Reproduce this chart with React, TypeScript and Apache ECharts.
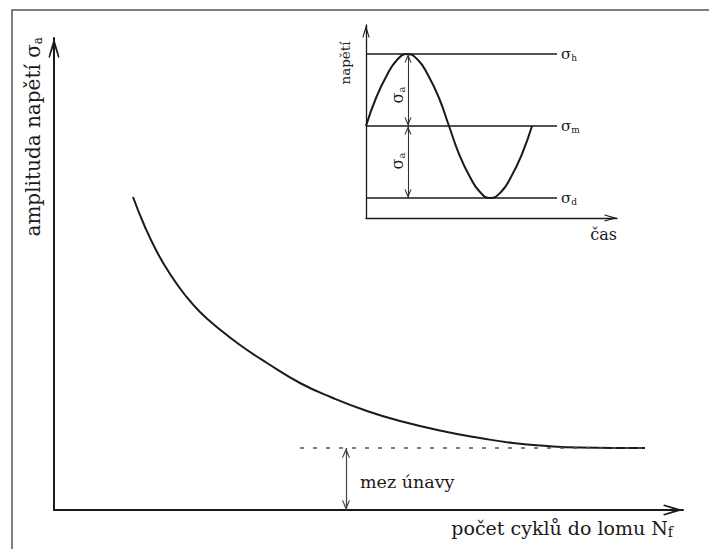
import React, { useEffect, useRef } from "react";
import * as echarts from "echarts";

// S–N (Wöhler) curve, arbitrary units along both axes
const snCycles = [79, 91, 103, 116, 131, 146, 164, 186, 213, 246, 279, 313, 346, 393, 426, 459, 493, 526, 591];
const snAmplitude = [313, 283, 258, 236, 215, 198, 182, 165, 147, 127, 112, 99, 89, 78, 72, 67, 64, 62.5, 62];

// fatigue limit (mez únavy)
const fatigueLimit = 62;
const fatigueLineFrom = 246;
const fatigueLineTo = 591;
const fatigueArrowAt = 292;

// inset: stress over time, one full cycle
const cycleTime = [0, 10, 21, 31, 41, 52, 62, 73, 83, 93, 104, 114, 124, 135, 145, 156, 166];
const cycleStress = [92, 120, 143, 158, 164, 158, 143, 120, 92, 64, 41, 26, 20, 26, 41, 64, 92];

// stress levels: upper, mean, lower
const sigmaUpper = 164;
const sigmaMean = 92;
const sigmaLower = 20;
const levelLineEnd = 191;
const amplitudeArrowAt = 42;

const SERIF = "DejaVu Serif";
const INK = "#1a1a1a";

// open chevron arrowhead, pointing up
const CHEVRON = "path://M27.5,0 L55,94 L49,100 L27.5,35 L6,100 L0,94 Z";

const hiddenAxisParts = {
  axisTick: { show: false },
  axisLabel: { show: false },
  splitLine: { show: false },
};

export default function App() {
  const ref = useRef<HTMLDivElement>(null);

  useEffect(() => {
    if (!ref.current) return;
    const chart = echarts.init(ref.current, null, { renderer: "svg" });

    const levelSeries = (name: string, value: number, sub: string) => ({
      name,
      type: "line",
      xAxisIndex: 1,
      yAxisIndex: 1,
      data: [
        [0, value],
        [levelLineEnd, value],
      ],
      symbol: "none",
      lineStyle: { color: INK, width: 1.3 },
      endLabel: {
        show: true,
        distance: 4,
        formatter: `{s|σ}{b|${sub}}`,
        rich: {
          s: { fontFamily: SERIF, fontSize: 15, color: INK },
          b: { fontFamily: SERIF, fontSize: 9, color: INK, padding: [8, 0, 0, 0] },
        },
      },
    });

    const subscriptText = (
      text: string,
      x: number,
      y: number,
      size: number,
      subSize: number,
      align: string,
      rotation: number
    ) => ({
      type: "text",
      x,
      y,
      rotation,
      style: {
        text,
        align,
        verticalAlign: "middle",
        fontFamily: SERIF,
        fontSize: size,
        fill: INK,
        rich: {
          a: {
            fontFamily: SERIF,
            fontSize: subSize,
            fill: INK,
            padding: [Math.round(size * 0.5), 0, 0, 0],
          },
        },
      },
    });

    const option = {
      animation: false,
      backgroundColor: "#ffffff",
      grid: [
        { left: 54, top: 38, width: 629, height: 472 },
        { left: 366, top: 25, width: 251, height: 193 },
      ],
      xAxis: [
        {
          gridIndex: 0,
          type: "value",
          min: 0,
          max: 629,
          ...hiddenAxisParts,
          axisLine: {
            lineStyle: { color: INK, width: 2 },
            symbol: ["none", CHEVRON],
            symbolSize: [12, 20],
            symbolOffset: [0, -10],
          },
          name: "počet cyklů do lomu N{f|f}",
          nameLocation: "end",
          nameGap: -10,
          nameTextStyle: {
            align: "right",
            verticalAlign: "top",
            padding: [7, 0, 0, 0],
            fontFamily: SERIF,
            fontSize: 19,
            color: INK,
            rich: {
              f: { fontFamily: SERIF, fontSize: 14, color: INK, padding: [8, 0, 0, 0] },
            },
          },
        },
        {
          gridIndex: 1,
          type: "value",
          min: 0,
          max: 251,
          ...hiddenAxisParts,
          axisLine: {
            lineStyle: { color: INK, width: 1.3 },
            symbol: ["none", CHEVRON],
            symbolSize: [8, 13],
            symbolOffset: [0, -6.5],
          },
        },
      ],
      yAxis: [
        {
          gridIndex: 0,
          type: "value",
          min: 0,
          max: 472,
          ...hiddenAxisParts,
          axisLine: {
            lineStyle: { color: INK, width: 2 },
            symbol: ["none", CHEVRON],
            symbolSize: [12, 20],
            symbolOffset: [0, -10],
          },
        },
        {
          gridIndex: 1,
          type: "value",
          min: 0,
          max: 193,
          ...hiddenAxisParts,
          axisLine: {
            lineStyle: { color: INK, width: 1.3 },
            symbol: ["none", CHEVRON],
            symbolSize: [8, 13],
            symbolOffset: [0, -6.5],
          },
        },
      ],
      series: [
        {
          name: "S-N",
          type: "line",
          xAxisIndex: 0,
          yAxisIndex: 0,
          data: snCycles.map((x, i) => [x, snAmplitude[i]]),
          smooth: 0.5,
          symbol: "none",
          lineStyle: { color: INK, width: 2 },
          z: 3,
        },
        {
          name: "mez únavy",
          type: "line",
          xAxisIndex: 0,
          yAxisIndex: 0,
          data: [
            [fatigueLineFrom, fatigueLimit],
            [fatigueLineTo, fatigueLimit],
          ],
          symbol: "none",
          lineStyle: { color: "#555", width: 1.3, type: [4, 9] },
          markLine: {
            silent: true,
            symbol: [CHEVRON, CHEVRON],
            symbolSize: [8, 10],
            symbolOffset: [
              [0, 5],
              [0, 5],
            ],
            lineStyle: { color: "#444", width: 1.2, type: "solid" },
            label: { show: false },
            data: [
              [
                { coord: [fatigueArrowAt, 0] },
                { coord: [fatigueArrowAt, fatigueLimit] },
              ],
            ],
          },
        },
        {
          name: "napětí",
          type: "line",
          xAxisIndex: 1,
          yAxisIndex: 1,
          data: cycleTime.map((t, i) => [t, cycleStress[i]]),
          smooth: 0.5,
          symbol: "none",
          lineStyle: { color: INK, width: 2 },
          z: 3,
          markLine: {
            silent: true,
            symbol: [CHEVRON, CHEVRON],
            symbolSize: [7, 9],
            symbolOffset: [
              [0, 4.5],
              [0, 4.5],
            ],
            lineStyle: { color: "#333", width: 1.1, type: "solid" },
            label: { show: false },
            data: [
              [
                { coord: [amplitudeArrowAt, sigmaMean] },
                { coord: [amplitudeArrowAt, sigmaUpper] },
              ],
              [
                { coord: [amplitudeArrowAt, sigmaLower] },
                { coord: [amplitudeArrowAt, sigmaMean] },
              ],
            ],
          },
        },
        levelSeries("σh", sigmaUpper, "h"),
        levelSeries("σm", sigmaMean, "m"),
        levelSeries("σd", sigmaLower, "d"),
      ],
      graphic: [
        {
          type: "rect",
          silent: true,
          shape: { x: 12, y: 10, width: 740, height: 600 },
          style: { fill: "none", stroke: "#555", lineWidth: 1.5 },
        },
        subscriptText("amplituda napětí σ{a|a}", 33, 37, 20, 12, "right", Math.PI / 2),
        {
          type: "text",
          x: 360,
          y: 482,
          style: {
            text: "mez únavy",
            align: "left",
            verticalAlign: "middle",
            fontFamily: SERIF,
            fontSize: 17.5,
            fill: INK,
          },
        },
        {
          type: "text",
          x: 345,
          y: 63,
          rotation: Math.PI / 2,
          style: {
            text: "napětí",
            align: "center",
            verticalAlign: "middle",
            fontFamily: SERIF,
            fontSize: 13.5,
            fill: INK,
          },
        },
        {
          type: "text",
          x: 617,
          y: 234,
          style: {
            text: "čas",
            align: "right",
            verticalAlign: "middle",
            fontFamily: SERIF,
            fontSize: 16,
            fill: INK,
          },
        },
        subscriptText("σ{a|a}", 397, 95, 16, 10, "center", Math.PI / 2),
        subscriptText("σ{a|a}", 397, 161, 16, 10, "center", Math.PI / 2),
      ],
    };

    chart.setOption(option as any);
    return () => chart.dispose();
  }, []);

  return (
    <div
      ref={ref}
      style={{ position: "absolute", left: 0, top: 0, width: 709, height: 549, background: "#fff" }}
    />
  );
}
